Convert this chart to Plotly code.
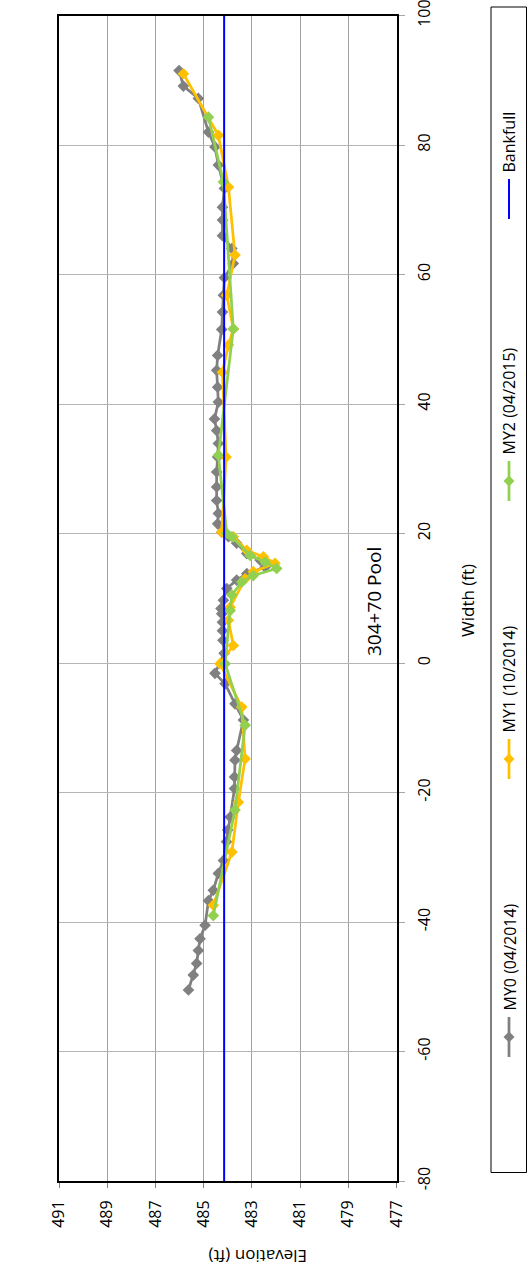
import plotly.graph_objects as go

# ---- survey data: station across the section (ft) and ground elevation (ft) ----
my0_width = [-50.5, -48.2, -46.4, -44.4, -42.6, -40.5, -36.7, -35.1, -32.5, -30.5,
             -27.6, -25.8, -23.8, -19.4, -17.6, -15.0, -13.5, -8.8, -6.3, -3.2,
             -1.6, 1.5, 3.5, 5.0, 6.3, 7.6, 8.4, 9.7, 11.5, 12.8,
             13.8, 14.8, 15.9, 16.9, 18.5, 19.5, 20.2, 21.5, 23.1, 25.1,
             27.2, 29.5, 31.8, 33.9, 35.9, 37.7, 40.3, 42.6, 45.2, 47.5,
             51.5, 54.2, 56.8, 59.5, 61.7, 64.0, 66.0, 68.4, 70.4, 73.3,
             76.9, 79.7, 82.0, 87.2, 89.1, 91.5]
my0_elev = [485.63, 485.43, 485.29, 485.22, 485.15, 484.94, 484.80, 484.60, 484.39, 484.18,
            484.05, 484.00, 483.90, 483.72, 483.72, 483.70, 483.63, 483.35, 483.70, 484.11,
            484.53, 484.15, 484.20, 484.22, 484.22, 484.25, 484.28, 484.18, 484.04, 483.63,
            483.21, 482.45, 482.66, 483.21, 483.63, 483.97, 484.25, 484.42, 484.39, 484.46,
            484.46, 484.46, 484.42, 484.39, 484.46, 484.55, 484.39, 484.42, 484.46, 484.42,
            484.25, 484.22, 484.18, 484.14, 483.77, 483.83, 484.22, 484.22, 484.22, 484.14,
            484.39, 484.53, 484.80, 485.22, 485.84, 486.02]

my1_width = [-37.4, -29.2, -21.5, -14.8, -6.8, -0.1, 2.7, 6.6, 8.6, 13.0,
             14.1, 15.4, 16.4, 17.4, 19.5, 20.2, 31.8, 44.9, 49.1, 51.6,
             56.8, 63.0, 73.5, 81.5, 91.0]
my1_elev = [484.60, 483.83, 483.56, 483.28, 483.42, 484.32, 483.77, 483.97, 483.90, 483.28,
            482.94, 482.04, 482.52, 483.21, 483.77, 484.25, 484.07, 484.22, 483.97, 483.77,
            484.04, 483.70, 483.97, 484.39, 485.84]

my2_width = [-39.0, -22.7, -9.6, -0.1, 8.1, 10.5, 12.5, 13.5, 14.6, 15.6,
             16.6, 19.5, 20.0, 32.1, 51.6, 74.3, 84.3]
my2_elev = [484.60, 483.70, 483.28, 484.11, 483.90, 483.83, 483.42, 482.94, 481.97, 482.45,
            483.07, 483.83, 484.04, 484.39, 483.77, 484.18, 484.80]

bankfull_elev = 484.15
width_range = [-80, 100]
elev_range = [491, 477]

elev_ticks = [491, 489, 487, 485, 483, 481, 479, 477]
width_ticks = [-80, -60, -40, -20, 0, 20, 40, 60, 80, 100]

series_names = ["MY0 (04/2014)", "MY1 (10/2014)", "MY2 (04/2015)", "Bankfull"]
series_colors = ["#808080", "#FFC000", "#92D050", "#0000FF"]

W, H = 527, 1274
FONT = "Open Sans"


def px(x):
    return x / W


def py(y):
    return 1 - y / H


fig = go.Figure()

for name, color, xs, ys in [
    (series_names[0], series_colors[0], my0_elev, my0_width),
    (series_names[1], series_colors[1], my1_elev, my1_width),
    (series_names[2], series_colors[2], my2_elev, my2_width),
]:
    fig.add_trace(go.Scatter(
        x=xs, y=ys, mode="lines+markers", name=name,
        line=dict(color=color, width=2.75),
        marker=dict(symbol="diamond", size=9, color=color),
    ))

fig.add_trace(go.Scatter(
    x=[bankfull_elev, bankfull_elev], y=width_range, mode="lines",
    name=series_names[3], line=dict(color=series_colors[3], width=2),
))

# plot area placed directly in figure pixels (zero margins)
x_dom = [px(59), px(396.5)]
y_dom = [py(1181), py(15.5)]

fig.update_layout(
    width=W, height=H,
    margin=dict(l=0, r=0, t=0, b=0, autoexpand=False),
    paper_bgcolor="white", plot_bgcolor="white",
    showlegend=False,
    font=dict(family=FONT, color="black"),
    xaxis=dict(
        domain=x_dom, range=elev_range, autorange=False,
        tickmode="array", tickvals=elev_ticks, ticktext=[str(v) for v in elev_ticks],
        tickangle=-90,
        showgrid=True, gridcolor="#a0a0a0", gridwidth=1, zeroline=False,
        showline=True, linecolor="black", linewidth=2, mirror=True,
        ticks="outside", ticklen=5, tickcolor="#808080",
        tickfont=dict(size=16, family=FONT), ticklabelstandoff=6,
        ticklabeloverflow="allow",
    ),
    yaxis=dict(
        domain=y_dom, range=width_range, autorange=False,
        side="right",
        tickmode="array", tickvals=width_ticks, ticktext=[str(v) for v in width_ticks],
        tickangle=-90,
        showgrid=True, gridcolor="#b5b5b5", gridwidth=1, zeroline=False,
        showline=True, linecolor="black", linewidth=2, mirror=True,
        ticks="outside", ticklen=6, tickcolor="#a6a6a6",
        tickfont=dict(size=16, family=FONT), ticklabelstandoff=6,
        ticklabeloverflow="allow",
    ),
)

annotations = [
    dict(text="304+70 Pool", x=px(374), y=py(602), textangle=-90,
         font=dict(size=19, family=FONT)),
    dict(text="Width (ft)", x=px(467), y=py(601), textangle=-90,
         font=dict(size=17, family=FONT)),
    dict(text="Elevation (ft)", x=px(258), y=py(1257), textangle=180,
         font=dict(size=17, family=FONT)),
]

shapes = [
    dict(type="rect", xref="paper", yref="paper",
         x0=px(491), x1=px(526.5), y0=py(1172.5), y1=py(7),
         line=dict(color="black", width=1), fillcolor="rgba(0,0,0,0)"),
]

# legend entries, stacked bottom to top
legend_centers = [1037, 759, 481, 199]
leg_x = 509
for name, color, cy in zip(series_names, series_colors, legend_centers):
    shapes.append(dict(type="line", xref="paper", yref="paper",
                       x0=px(leg_x), x1=px(leg_x), y0=py(cy + 20), y1=py(cy - 20),
                       line=dict(color=color, width=2.75 if name != "Bankfull" else 2)))
    if name != "Bankfull":
        d = 5.5
        path = (f"M {px(leg_x)},{py(cy - d)} L {px(leg_x + d)},{py(cy)} "
                f"L {px(leg_x)},{py(cy + d)} L {px(leg_x - d)},{py(cy)} Z")
        shapes.append(dict(type="path", xref="paper", yref="paper", path=path,
                           fillcolor=color, line=dict(color=color, width=0)))
    annotations.append(dict(text=name, x=px(leg_x), y=py(cy - 24), textangle=-90,
                            yanchor="bottom", xanchor="center",
                            font=dict(size=16, family=FONT)))

for a in annotations:
    a.setdefault("xref", "paper")
    a.setdefault("yref", "paper")
    a.setdefault("xanchor", "center")
    a.setdefault("yanchor", "middle")
    a.setdefault("showarrow", False)

fig.update_layout(annotations=annotations, shapes=shapes)

fig.write_html("out.html")
